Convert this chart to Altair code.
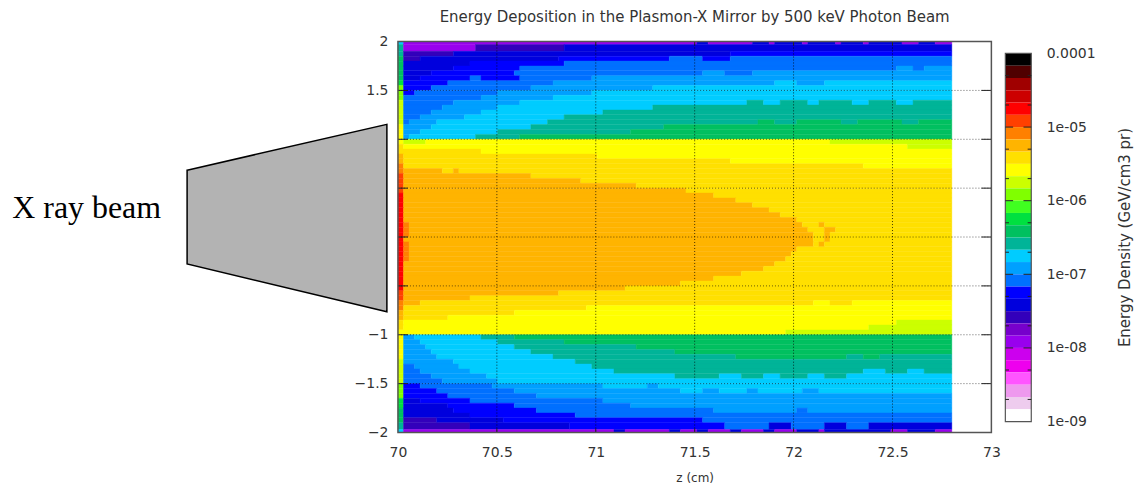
import altair as alt
import pandas as pd

TITLE = "Energy Deposition in the Plasmon-X Mirror by 500 keV Photon Beam"
FONT = "DejaVu Sans"
TEXT = "#333333"

# colour levels of the scale, top (1e-4) to bottom (1e-9)
LEVEL_KEYS = ["K", "W", "X", "Z", "R", "Q", "P", "O", "G", "Y", "L", "M", "F", "E", "N",
              "T", "S", "A", "C", "B", "D", "I", "U", "V", "a", "b", "c", "d", "e", "w"]
LEVEL_COLORS = ["#000000", "#500000", "#a00000", "#cc0000", "#ff0000", "#ff4000", "#ff8000",
                "#ffb400", "#ffe000", "#ffff00", "#ccff00", "#80ff00", "#40ff20", "#00e040",
                "#00c060", "#00b498", "#00ccff", "#00a0ff", "#0070ff", "#0000ff", "#0000dd",
                "#3300bb", "#7700cc", "#9900ee", "#cc00ee", "#ee00ee", "#ff55ff", "#ee99ee",
                "#eeccee", "#ffffff"]

# map rows: band code + number of z cells (100 cells of 0.028 cm)
TOP_EDGES = [2, 1.97, 1.9, 1.85, 1.8, 1.75, 1.7, 1.65, 1.6, 1.55, 1.5, 1.45, 1.4, 1.35, 1.3,
             1.25, 1.2, 1.15, 1.1, 1.05, 1.0]
TOP_ROWS = [
    "S1 V53 D2 V8 D3 V1 D5 V1 D5 V1 D4 V1 D6 V3 D3 V3",
    "T1 V13 I16 D70",
    "T1 I9 D50 B40",
    "N1 I3 D25 B20 C6 B5 C40",
    "N1 D12 B17 C70",
    "N1 D9 B12 C68 A3 C2 A5",
    "N1 D5 B15 C34 A4 C5 A36",
    "N1 D3 B9 C2 B7 C13 A65",
    "E1 B8 C19 A40 S4 A5 S23",
    "M1 B5 C18 A22 S54",
    "M1 B2 C15 A17 S65",
    "M1 C14 A13 S72",
    "L1 C9 A12 S41 T3 S3 T5 S2 T6 S3 T5 S3 T7",
    "L1 C7 A10 S28 T54",
    "L1 C5 A9 S22 T63",
    "L1 C3 A8 S18 T70",
    "L1 C1 A5 S20 T38 N3 T4 N8 T3 N8 T3 N6",
    "Y1 A5 S18 T24 N52",
    "Y1 A3 S14 T24 N58",
    "Y1 A1 S12 T8 N78",
]
MID_EDGES = [round(1 - i * 0.05, 2) for i in range(41)]
MID_ROWS = [
    "Y1 L4 Y73 L22", "G1 Y91 L8", "G15 Y85", "O1 G35 Y64", "O1 G59 Y40",
    "P1 G83 Y16", "P1 O7 G2 O1 G89", "Q1 O23 G76", "Q1 O32 G67", "Q1 O42 G57",
    "Q1 O51 G48", "R1 O56 G43", "R1 O60 G39", "R1 O63 G36", "R1 O66 G33",
    "R1 O68 G31", "R1 O71 G28", "R1 P1 O71 G3 O1 G23", "R1 P1 O72 G3 O2 G21", "R1 P1 O73 G2 O1 G22",
    "R1 O74 G2 O1 G22", "R1 P1 O73 G1 O1 G23", "R1 P1 O70 G28", "R1 P1 O69 G29", "R1 P1 O68 G30",
    "R1 O67 G32", "R1 O65 G34", "R1 O61 G38", "R1 O56 G43", "R1 O50 G49",
    "R1 O40 G59", "Q1 O28 G71", "Q1 O12 G87", "P1 O3 G71 Y3 G4 Y18", "P1 G33 Y66",
    "O1 G20 Y79", "O1 G8 Y91", "G1 Y89 L10", "G1 Y84 L15", "Y70 L30",
]
BOTTOM_EDGES = [-1.0, -1.05, -1.1, -1.15, -1.2, -1.25, -1.3, -1.35, -1.4, -1.45, -1.5, -1.55,
                -1.6, -1.65, -1.7, -1.75, -1.8, -1.85, -1.9, -1.97, -2]
BOTTOM_ROWS = [
    "Y1 A2 S12 T6 N79",
    "Y1 A3 S14 T12 N70",
    "Y1 A4 S16 T22 N57",
    "Y1 A5 S18 T26 N50",
    "Y1 A6 S21 T33 N20 T3 N3 T13",
    "L1 A9 S22 T68",
    "L1 C2 A8 S24 T65",
    "L1 C3 A9 S26 T45 S4 T4 S3 T5",
    "L1 C5 A10 S34 T8 S4 T4 S3 T5 S3 T4 S19",
    "L1 C7 A10 S82",
    "M1 B3 C13 A20 S8 A2 S53",
    "M1 B6 C14 A30 S4 A3 S5 A2 S8 A3 S24",
    "M1 B8 C16 A75",
    "E1 D3 B9 C24 A63",
    "E1 D8 B12 C21 A58",
    "N1 D9 B15 C32 A15 C2 A26",
    "N1 D12 B19 C68",
    "N1 I6 D12 B36 C45",
    "T1 I12 D18 B28 C8 D4 C6 D4 C4 D15",
    "S1 V38 D2 V8 D2 V3 D2 V4 D2 V4 D2 V4 D4 V1 D12 V3 D5 V3",
]
CELL = 0.028
Z_START = 70.0

Z_TICKS = [70, 70.5, 71, 71.5, 72, 72.5, 73]
Y_GRID = [1.5, 1, 0.5, 0, -0.5, -1, -1.5]
Z_GRID = [70.5, 71, 71.5, 72, 72.5]
Y_LABELS = [2, 1.5, -1, -1.5, -2]

# beam sketch in plot units
BEAM_Z = [68.934, 69.944]
BEAM_TOP = [0.684, 1.153]
BEAM_BOTTOM = [-0.276, -0.765]
BEAM_LABEL = "X ray beam"

# colour bar
BAR_DECADES = [-9, -8, -7, -6, -5, -4]
BAR_MINOR = [-8.7, -8.3, -7.7, -7.3, -6.7, -6.3, -5.7, -5.3, -4.7, -4.3]


def cells(rows, edges):
    out = []
    for i, row in enumerate(rows):
        col = 0
        for tok in row.split():
            n = int(tok[1:])
            out.append(dict(z0=Z_START + col * CELL, z1=Z_START + (col + n) * CELL,
                            y0=edges[i], y1=edges[i + 1], k=tok[0]))
            col += n
    return out


heat_df = pd.DataFrame(cells(TOP_ROWS, TOP_EDGES) + cells(MID_ROWS, MID_EDGES) + cells(BOTTOM_ROWS, BOTTOM_EDGES))
cscale = alt.Scale(domain=LEVEL_KEYS, range=LEVEL_COLORS)
xscale = alt.Scale(domain=[70, 73], nice=False, zero=False)
yscale = alt.Scale(domain=[-2, 2], nice=False, zero=False)

heat = alt.Chart(heat_df).mark_rect(strokeWidth=0.4).encode(
    x=alt.X("z0:Q", scale=xscale, title="z (cm)",
            axis=alt.Axis(values=Z_TICKS, format="~g", grid=False, ticks=False, domain=False,
                          labelPadding=13, titlePadding=13, labelColor=TEXT, titleColor=TEXT,
                          labelFont=FONT, titleFont=FONT, labelFontSize=14, titleFontSize=12,
                          titleFontWeight="normal", labelFlush=False)),
    x2="z1:Q",
    y=alt.Y("y0:Q", scale=yscale, title=None,
            axis=alt.Axis(values=Y_LABELS, format="~g", grid=False, ticks=False, domain=False,
                          labelPadding=10, labelColor=TEXT, labelFont=FONT, labelFontSize=14,
                          labelFlush=False)),
    y2="y1:Q",
    color=alt.Color("k:N", scale=cscale, legend=None),
    stroke=alt.Stroke("k:N", scale=cscale, legend=None),
)

hgrid = alt.Chart(pd.DataFrame({"y": Y_GRID})).mark_rule(
    color="#000000", strokeDash=[1, 2], strokeWidth=1, opacity=0.6
).encode(y=alt.Y("y:Q", scale=yscale), x=alt.value(0), x2=alt.value(595))
vgrid = alt.Chart(pd.DataFrame({"z": Z_GRID})).mark_rule(
    color="#000000", strokeDash=[1, 2], strokeWidth=1, opacity=0.75
).encode(x=alt.X("z:Q", scale=xscale), y=alt.value(0), y2=alt.value(392))
frame = alt.Chart(pd.DataFrame({"a": [70], "b": [73], "c": [-2], "d": [2]})).mark_rect(
    fillOpacity=0, stroke="#555555", strokeWidth=1.5
).encode(x=alt.X("a:Q", scale=xscale), x2="b:Q", y=alt.Y("c:Q", scale=yscale), y2="d:Q")

side_ticks = pd.DataFrame(
    [dict(y=v, a=70.0, b=70.05) for v in Y_GRID] + [dict(y=v, a=72.95, b=73.0) for v in Y_GRID]
)
yticks = alt.Chart(side_ticks).mark_rule(color="#222222", strokeWidth=1).encode(
    y=alt.Y("y:Q", scale=yscale), x=alt.X("a:Q", scale=xscale), x2="b:Q")
end_ticks = pd.DataFrame(
    [dict(z=v, a=-2.0, b=-1.96) for v in Z_GRID] + [dict(z=v, a=1.96, b=2.0) for v in Z_GRID]
)
zticks = alt.Chart(end_ticks).mark_rule(color="#222222", strokeWidth=1).encode(
    x=alt.X("z:Q", scale=xscale), y=alt.Y("a:Q", scale=yscale), y2="b:Q")

beam_df = pd.DataFrame({"z": BEAM_Z, "t": BEAM_TOP, "b": BEAM_BOTTOM})
beam = alt.Chart(beam_df).mark_area(fill="#b3b3b3", stroke="#000000", strokeWidth=1.5).encode(
    x=alt.X("z:Q", scale=xscale), y=alt.Y("t:Q", scale=yscale), y2="b:Q")
beam_text = alt.Chart(pd.DataFrame({"z": [68.05], "y": [0.194], "t": [BEAM_LABEL]})).mark_text(
    font="Liberation Serif", fontSize=32, color="#000000", align="left", baseline="alphabetic"
).encode(x=alt.X("z:Q", scale=xscale), y=alt.Y("y:Q", scale=yscale), text="t:N")

main = alt.layer(heat, vgrid, hgrid, yticks, zticks, frame, beam, beam_text).properties(
    width=595, height=392,
    title=alt.TitleParams(TITLE, font=FONT, fontSize=15, fontWeight="normal", color=TEXT,
                          anchor="middle", offset=10),
)

bar_df = pd.DataFrame({
    "k": LEVEL_KEYS,
    "hi": [-4 - i / 6 for i in range(30)],
    "lo": [-4 - (i + 1) / 6 for i in range(30)],
    "x0": 0, "x1": 1,
})
bar_scale = alt.Scale(domain=[-9.149, -3.838], nice=False, zero=False)
bar_x = alt.Scale(domain=[0, 1], nice=False)
label_expr = "datum.value == -4 ? '0.0001' : '1e-0' + (-datum.value)"
bar = alt.Chart(bar_df).mark_rect().encode(
    x=alt.X("x0:Q", scale=bar_x, axis=None),
    x2="x1:Q",
    y=alt.Y("hi:Q", scale=bar_scale, title="Energy Density (GeV/cm3 pr)",
            axis=alt.Axis(orient="right", values=BAR_DECADES, labelExpr=label_expr, grid=False,
                          ticks=False, domain=False, labelPadding=15, titlePadding=23,
                          titleAngle=270, titleBaseline="top", titleAlign="center",
                          labelColor=TEXT, titleColor=TEXT, labelFont=FONT, titleFont=FONT,
                          labelFontSize=14, titleFontSize=15, titleFontWeight="normal")),
    y2="lo:Q",
    color=alt.Color("k:N", scale=cscale, legend=None),
)
bar_frame = alt.Chart(pd.DataFrame({"a": [0], "b": [1], "c": [-9], "d": [-4]})).mark_rect(
    fillOpacity=0, stroke="#555555", strokeWidth=1.2
).encode(x=alt.X("a:Q", scale=bar_x), x2="b:Q", y=alt.Y("c:Q", scale=bar_scale), y2="d:Q")
major = alt.Chart(pd.DataFrame({"y": BAR_DECADES[1:-1]}))
minor = alt.Chart(pd.DataFrame({"y": BAR_MINOR}))
tick_layers = []
for src, a, b, c, d in [(major, 0, 0.3, 0.7, 1), (minor, 0, 0.14, 0.86, 1)]:
    for p, q in [(a, b), (c, d)]:
        tick_layers.append(
            src.transform_calculate(p=str(p), q=str(q)).mark_rule(color="#222222", strokeWidth=1).encode(
                y=alt.Y("y:Q", scale=bar_scale), x=alt.X("p:Q", scale=bar_x), x2="q:Q"))
colorbar = alt.layer(bar, bar_frame, *tick_layers).properties(width=26, height=392)

chart = alt.hconcat(main, colorbar, spacing=4, padding={"left": 4, "top": 1, "right": 2, "bottom": 0}).configure_view(
    stroke=None
).resolve_scale(color="independent", x="independent", y="independent")

chart.save("out.html", embed_options={"renderer": "svg", "actions": False})
